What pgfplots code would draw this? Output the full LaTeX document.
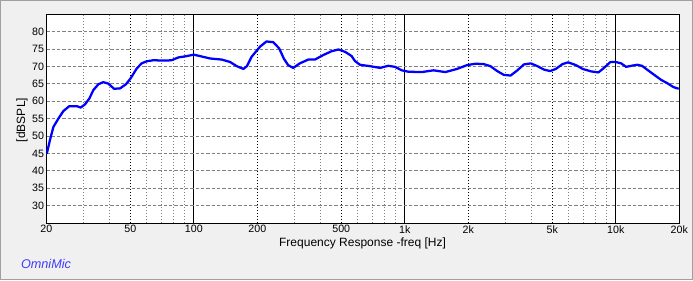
\documentclass[border=0pt]{standalone}
\usepackage{pgfplots}
\pgfplotsset{compat=1.18}
\usepackage{fontspec}
\setmainfont{Liberation Sans}
\definecolor{panel}{RGB}{240,240,240}
\definecolor{edge}{RGB}{160,160,160}
\definecolor{gridgray}{RGB}{128,128,128}
\definecolor{omni}{RGB}{60,60,255}
\begin{document}
\begin{tikzpicture}
% background panel, 693x280 px at 0.75pt per px
\fill[panel] (0,0) rectangle (519.75pt,210pt);
\draw[edge, line width=0.75pt] (0.375pt,0.375pt) rectangle (519.375pt,209.625pt);
\begin{axis}[
    at={(34.725pt,42.75pt)}, anchor=south west,
    scale only axis,
    width=474.75pt, height=156.5pt,
    xmode=log,
    xmin=20, xmax=20000,
    ymin=25, ymax=85,
    axis background/.style={fill=white},
    axis line style={black, line width=0.75pt},
    major tick length=0pt, minor tick length=0pt,
    tick style={draw=none},
    ticklabel style={font=\fontsize{8}{9}\selectfont},
    /pgf/number format/assume math mode=true,
    xtick={100,1000,10000},
    xticklabels={{100\hspace{7pt}},{1k\hspace{7pt}},{10k\hspace{7pt}}},
    extra x ticks={20,50,200,500,2000,5000,20000},
    extra x tick labels={20,50,200,500,2k,5k,20k},
    extra x tick style={
        grid=major,
        major grid style={gridgray, line width=0.75pt, dash pattern=on 0.75pt off 1.5pt},
    },
    minor xtick={30,40,60,70,80,90,300,400,600,700,800,900,3000,4000,6000,7000,8000,9000},
    xmajorgrids, xminorgrids,
    major x grid style={black, line width=0.75pt},
    minor x grid style={gridgray, line width=0.75pt, dash pattern=on 0.75pt off 1.5pt},
    ytick={30,35,...,80},
    ymajorgrids,
    major y grid style={gridgray, line width=0.75pt, dash pattern=on 2.5pt off 1.5pt},
    xticklabel style={inner sep=1.5pt},
    yticklabel style={inner sep=1.5pt},
    clip=true,
]
\addplot[blue, line width=1.7pt, line join=round] coordinates {
(20.1,44.9) (20.8,48.8) (21.6,52.6) (22.8,55.0) (24.1,57.2) (25.7,58.6)
(27.9,58.6) (29.1,58.2) (30.5,59.1) (32.0,60.8) (33.4,63.2) (35.3,64.9)
(37.2,65.5) (39.3,65.1) (41.9,63.6) (44.7,63.7) (47.7,64.9) (50.2,66.6)
(53.6,69.4) (56.6,70.9) (59.8,71.5) (64.3,71.8) (73,71.7) (78.5,71.8)
(84.4,72.6) (92.6,73.0) (100,73.4) (107,73.0) (119.6,72.3) (135.6,72.0)
(148.6,71.3) (159.8,70.1) (171.8,69.3) (178.6,70.1) (188,72.8) (206,75.7)
(221,77.2) (238,77.0) (254,75.2) (267,72.3) (280,70.4) (296,69.6)
(318,70.9) (349,72.0) (375,72.0) (411,73.3) (450,74.4) (485,74.9)
(522,74.2) (560,73.0) (580,71.6) (613,70.5) (684,70.1) (763,69.6)
(835,70.2) (899,69.9) (968,68.9) (1040,68.5) (1204,68.4) (1368,68.9)
(1556,68.4) (1768,69.3) (1974,70.4) (2162,70.8) (2366,70.7) (2546,70.1)
(2740,68.7) (2946,67.6) (3172,67.4) (3400,68.8) (3672,70.6) (3952,70.9)
(4252,70.1) (4572,69.1) (4880,68.7) (5196,69.3) (5592,70.7) (5946,71.2)
(6474,70.4) (6970,69.3) (7634,68.6) (8274,68.3) (8832,69.7) (9432,71.3)
(10000,71.3) (10600,70.9) (11200,69.9) (11830,70.2) (12640,70.5) (13310,70.2)
(14220,68.9) (15290,67.5) (16460,66.1) (17440,65.3) (18740,64.1) (19860,63.6)
};
\end{axis}
\node[rotate=90, font=\fontsize{9}{10}\selectfont] at (16.5pt,120pt) {[dBSPL]};
\node[font=\fontsize{9}{10}\selectfont] at (271.9pt,27.75pt) {Frequency Response -freq [Hz]};
\node[font=\fontsize{9.5}{11}\selectfont\itshape, text=omni] at (34.5pt,12pt) {OmniMic};
\end{tikzpicture}
\end{document}
